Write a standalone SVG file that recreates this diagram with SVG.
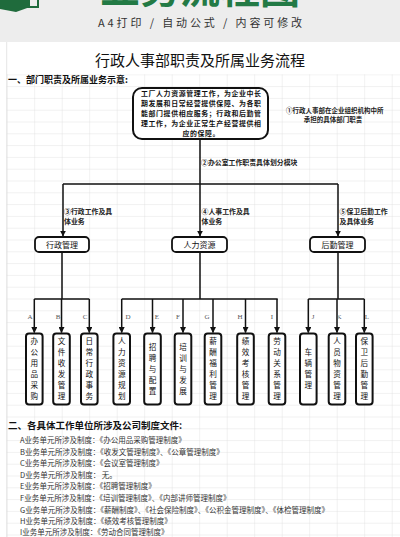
<svg xmlns="http://www.w3.org/2000/svg" width="400" height="537" viewBox="0 0 400 537">
<defs>
<style>
.cjk{font-family:"Noto Sans CJK SC","Noto Sans",sans-serif;}
.b{font-weight:bold;}
.box{fill:#fff;stroke:#111;stroke-width:1.8;}
.leaf{fill:#fff;stroke:#111;stroke-width:2;}
.con{fill:none;stroke:#111;stroke-width:1.5;}
.grid{stroke:#dedede;stroke-width:0.8;fill:none;}
.lab{font-size:6.9px;fill:#222;font-weight:bold;}
.lc{font-family:"Noto Sans CJK SC","Noto Sans",sans-serif;font-size:7.6px;fill:#111;text-anchor:middle;}
.letter{font-family:"Liberation Serif",serif;font-size:7px;fill:#555;text-anchor:middle;}
.lst{font-size:7.5px;fill:#333;}
</style>
<marker id="arr" viewBox="0 0 10 10" refX="9" refY="5" markerWidth="4" markerHeight="4" orient="auto" markerUnits="strokeWidth">
<path d="M0,0 L10,5 L0,10 z" fill="#111"/>
</marker>
<pattern id="gp" x="6.7" y="74.3" width="27.5" height="11.8" patternUnits="userSpaceOnUse">
<path d="M0,0 H27.5 M0,0 V11.8" class="grid"/>
</pattern>
</defs>

<rect x="0" y="0" width="400" height="42" fill="#ededed"/>
<rect x="0" y="42" width="400" height="495" fill="#fff"/>
<rect x="6.7" y="74.3" width="393.3" height="462.7" fill="url(#gp)"/>
<path d="M6.7,42 V537" class="grid"/>

<g id="header">
<polygon points="0,0 30,0 30,7 16,12 0,9" fill="#1f6b3c"/>
<rect x="21" y="-2" width="17" height="9" fill="none" stroke="#1f6b3c" stroke-width="2"/>
<text x="200" y="2.5" class="cjk b" font-size="40" fill="#237a45" text-anchor="middle">业务流程图</text>
<text x="200" y="27" class="cjk" font-size="11" fill="#333" text-anchor="middle" textLength="204" lengthAdjust="spacing">A4打印 / 自动公式 / 内容可修改</text>
</g>

<text x="200" y="66" class="cjk" font-size="15" fill="#111" text-anchor="middle">行政人事部职责及所属业务流程</text>
<text x="8" y="82.5" class="cjk b" font-size="9" fill="#111">一、部门职责及所属业务示意:</text>

<g id="connectors">
<path class="con" d="M200,139 V184 M63,184 H338"/>
<path class="con" d="M63,184 V236" marker-end="url(#arr)"/>
<path class="con" d="M200,184 V236" marker-end="url(#arr)"/>
<path class="con" d="M338,184 V236" marker-end="url(#arr)"/>
<path class="con" d="M62,252 V299 M34.3,299 H89.3"/>
<path class="con" d="M200,252 V299 M121.7,299 H277.7"/>
<path class="con" d="M338,252 V299 M308.3,299 H364.3"/>
<path class="con" d="M34.3,299 V332.5" marker-end="url(#arr)"/>
<path class="con" d="M61.5,299 V332.5" marker-end="url(#arr)"/>
<path class="con" d="M89.3,299 V332.5" marker-end="url(#arr)"/>
<path class="con" d="M121.7,299 V332.5" marker-end="url(#arr)"/>
<path class="con" d="M152.5,299 V332.5" marker-end="url(#arr)"/>
<path class="con" d="M183,299 V332.5" marker-end="url(#arr)"/>
<path class="con" d="M213,299 V332.5" marker-end="url(#arr)"/>
<path class="con" d="M245.5,299 V332.5" marker-end="url(#arr)"/>
<path class="con" d="M277,299 V332.5" marker-end="url(#arr)"/>
<path class="con" d="M308.3,299 V332.5" marker-end="url(#arr)"/>
<path class="con" d="M337,299 V332.5" marker-end="url(#arr)"/>
<path class="con" d="M364.3,299 V332.5" marker-end="url(#arr)"/>
</g>

<g id="labels" class="cjk">
<text x="286" y="112.5" font-size="6.5" fill="#222" class="b">①行政人事部在企业组织机构中所</text>
<text x="333" y="122" font-size="6.5" fill="#222" class="b" text-anchor="middle">承担的具体部门职责</text>
<text x="201" y="165.2" class="lab">②办公室工作职责具体划分模块</text>
<text x="64" y="214" class="lab">③行政工作及具</text>
<text x="64" y="224" class="lab">体业务</text>
<text x="201.5" y="214" class="lab">④人事工作及具</text>
<text x="201.5" y="224" class="lab">体业务</text>
<text x="339.5" y="214" class="lab">⑤保卫后勤工作</text>
<text x="339.5" y="224" class="lab">及具体业务</text>
</g>

<g id="node-top">
<rect x="133" y="88" width="135" height="51" rx="9" fill="#fff" stroke="#111" stroke-width="2"/>
<g class="cjk b" font-size="6.9" fill="#111" text-anchor="middle" letter-spacing="0.65">
<text x="201.3" y="96.3">工厂人力资源管理工作，为企业中长</text>
<text x="201.3" y="106.3">期发展和日常经营提供保障、为各职</text>
<text x="201.3" y="116.3">能部门提供相应服务；行政和后勤管</text>
<text x="201.3" y="126.3">理工作，为企业正常生产经营提供相</text>
<text x="201.3" y="136.3">应的保障。</text>
</g>
</g>

<g id="node-xingzheng">
<rect class="box" x="35" y="237" width="54" height="15" rx="4"/>
<text x="62" y="247.5" class="cjk" font-size="8" fill="#111" text-anchor="middle">行政管理</text>
</g>
<g id="node-renli">
<rect class="box" x="172" y="237" width="55" height="15" rx="4"/>
<text x="199.5" y="247.5" class="cjk" font-size="8" fill="#111" text-anchor="middle">人力资源</text>
</g>
<g id="node-houqin">
<rect class="box" x="310" y="237" width="55" height="15" rx="4"/>
<text x="337.5" y="247.5" class="cjk" font-size="8" fill="#111" text-anchor="middle">后勤管理</text>
</g>

<g id="letters">
<text class="letter" x="30" y="319">A</text>
<text class="letter" x="58" y="319">B</text>
<text class="letter" x="85" y="319">C</text>
<text class="letter" x="128" y="319">D</text>
<text class="letter" x="157" y="319">E</text>
<text class="letter" x="178" y="319">F</text>
<text class="letter" x="207" y="319">G</text>
<text class="letter" x="240" y="319">H</text>
<text class="letter" x="272" y="319">I</text>
<text class="letter" x="313" y="319">J</text>
<text class="letter" x="339" y="319">K</text>
<text class="letter" x="367" y="319">L</text>
</g>

<g id="leaf-A"><rect class="leaf" x="26" y="333.5" width="16.6" height="71" rx="3"/>
<text class="lc" x="34.3" y="344">办</text><text class="lc" x="34.3" y="355.1">公</text><text class="lc" x="34.3" y="366.1">用</text><text class="lc" x="34.3" y="377.2">品</text><text class="lc" x="34.3" y="388.2">采</text><text class="lc" x="34.3" y="399.3">购</text></g>
<g id="leaf-B"><rect class="leaf" x="53.2" y="333.5" width="16.6" height="71" rx="3"/>
<text class="lc" x="61.5" y="344">文</text><text class="lc" x="61.5" y="355.1">件</text><text class="lc" x="61.5" y="366.1">收</text><text class="lc" x="61.5" y="377.2">发</text><text class="lc" x="61.5" y="388.2">管</text><text class="lc" x="61.5" y="399.3">理</text></g>
<g id="leaf-C"><rect class="leaf" x="81" y="333.5" width="16.6" height="71" rx="3"/>
<text class="lc" x="89.3" y="344">日</text><text class="lc" x="89.3" y="355.1">常</text><text class="lc" x="89.3" y="366.1">行</text><text class="lc" x="89.3" y="377.2">政</text><text class="lc" x="89.3" y="388.2">事</text><text class="lc" x="89.3" y="399.3">务</text></g>
<g id="leaf-D"><rect class="leaf" x="113.4" y="333.5" width="16.6" height="71" rx="3"/>
<text class="lc" x="121.7" y="344">人</text><text class="lc" x="121.7" y="355.1">力</text><text class="lc" x="121.7" y="366.1">资</text><text class="lc" x="121.7" y="377.2">源</text><text class="lc" x="121.7" y="388.2">规</text><text class="lc" x="121.7" y="399.3">划</text></g>
<g id="leaf-E"><rect class="leaf" x="144.2" y="333.5" width="16.6" height="71" rx="3"/>
<text class="lc" x="152.5" y="349.6">招</text><text class="lc" x="152.5" y="360.6">聘</text><text class="lc" x="152.5" y="371.7">与</text><text class="lc" x="152.5" y="382.7">配</text><text class="lc" x="152.5" y="393.8">置</text></g>
<g id="leaf-F"><rect class="leaf" x="174.7" y="333.5" width="16.6" height="71" rx="3"/>
<text class="lc" x="183" y="349.6">培</text><text class="lc" x="183" y="360.6">训</text><text class="lc" x="183" y="371.7">与</text><text class="lc" x="183" y="382.7">发</text><text class="lc" x="183" y="393.8">展</text></g>
<g id="leaf-G"><rect class="leaf" x="204.7" y="333.5" width="16.6" height="71" rx="3"/>
<text class="lc" x="213" y="344">薪</text><text class="lc" x="213" y="355.1">酬</text><text class="lc" x="213" y="366.1">福</text><text class="lc" x="213" y="377.2">利</text><text class="lc" x="213" y="388.2">管</text><text class="lc" x="213" y="399.3">理</text></g>
<g id="leaf-H"><rect class="leaf" x="237.2" y="333.5" width="16.6" height="71" rx="3"/>
<text class="lc" x="245.5" y="344">绩</text><text class="lc" x="245.5" y="355.1">效</text><text class="lc" x="245.5" y="366.1">考</text><text class="lc" x="245.5" y="377.2">核</text><text class="lc" x="245.5" y="388.2">管</text><text class="lc" x="245.5" y="399.3">理</text></g>
<g id="leaf-I"><rect class="leaf" x="268.7" y="333.5" width="16.6" height="71" rx="3"/>
<text class="lc" x="277" y="344">劳</text><text class="lc" x="277" y="355.1">动</text><text class="lc" x="277" y="366.1">关</text><text class="lc" x="277" y="377.2">系</text><text class="lc" x="277" y="388.2">管</text><text class="lc" x="277" y="399.3">理</text></g>
<g id="leaf-J"><rect class="leaf" x="300" y="333.5" width="16.6" height="71" rx="3"/>
<text class="lc" x="308.3" y="355.1">车</text><text class="lc" x="308.3" y="366.1">辆</text><text class="lc" x="308.3" y="377.2">管</text><text class="lc" x="308.3" y="388.2">理</text></g>
<g id="leaf-K"><rect class="leaf" x="328.7" y="333.5" width="16.6" height="71" rx="3"/>
<text class="lc" x="337" y="344">人</text><text class="lc" x="337" y="355.1">员</text><text class="lc" x="337" y="366.1">物</text><text class="lc" x="337" y="377.2">资</text><text class="lc" x="337" y="388.2">管</text><text class="lc" x="337" y="399.3">理</text></g>
<g id="leaf-L"><rect class="leaf" x="356" y="333.5" width="16.6" height="71" rx="3"/>
<text class="lc" x="364.3" y="344">保</text><text class="lc" x="364.3" y="355.1">卫</text><text class="lc" x="364.3" y="366.1">后</text><text class="lc" x="364.3" y="377.2">勤</text><text class="lc" x="364.3" y="388.2">管</text><text class="lc" x="364.3" y="399.3">理</text></g>

<g id="list" class="cjk">
<text x="8" y="428.5" font-size="9.5" class="b" fill="#111">二、各具体工作单位所涉及公司制度文件:</text>
<text class="lst" x="20" y="442.6">A业务单元所涉及制度：《办公用品采购管理制度》</text>
<text class="lst" x="20" y="454.6">B业务单元所涉及制度：《收发文管理制度》、《公章管理制度》</text>
<text class="lst" x="20" y="466.2">C业务单元所涉及制度：《会议室管理制度》</text>
<text class="lst" x="20" y="477.8">D业务单元所涉及制度： 无。</text>
<text class="lst" x="20" y="489.4">E业务单元所涉及制度：《招聘管理制度》</text>
<text class="lst" x="20" y="501">F业务单元所涉及制度：《培训管理制度》、《内部讲师管理制度》</text>
<text class="lst" x="20" y="512.6">G业务单元所涉及制度：《薪酬制度》、《社会保险制度》、《公积金管理制度》、《体检管理制度》</text>
<text class="lst" x="20" y="524.2">H业务单元所涉及制度：《绩效考核管理制度》</text>
<text class="lst" x="20" y="535">I业务单元所涉及制度：《劳动合同管理制度》</text>
</g>
</svg>
